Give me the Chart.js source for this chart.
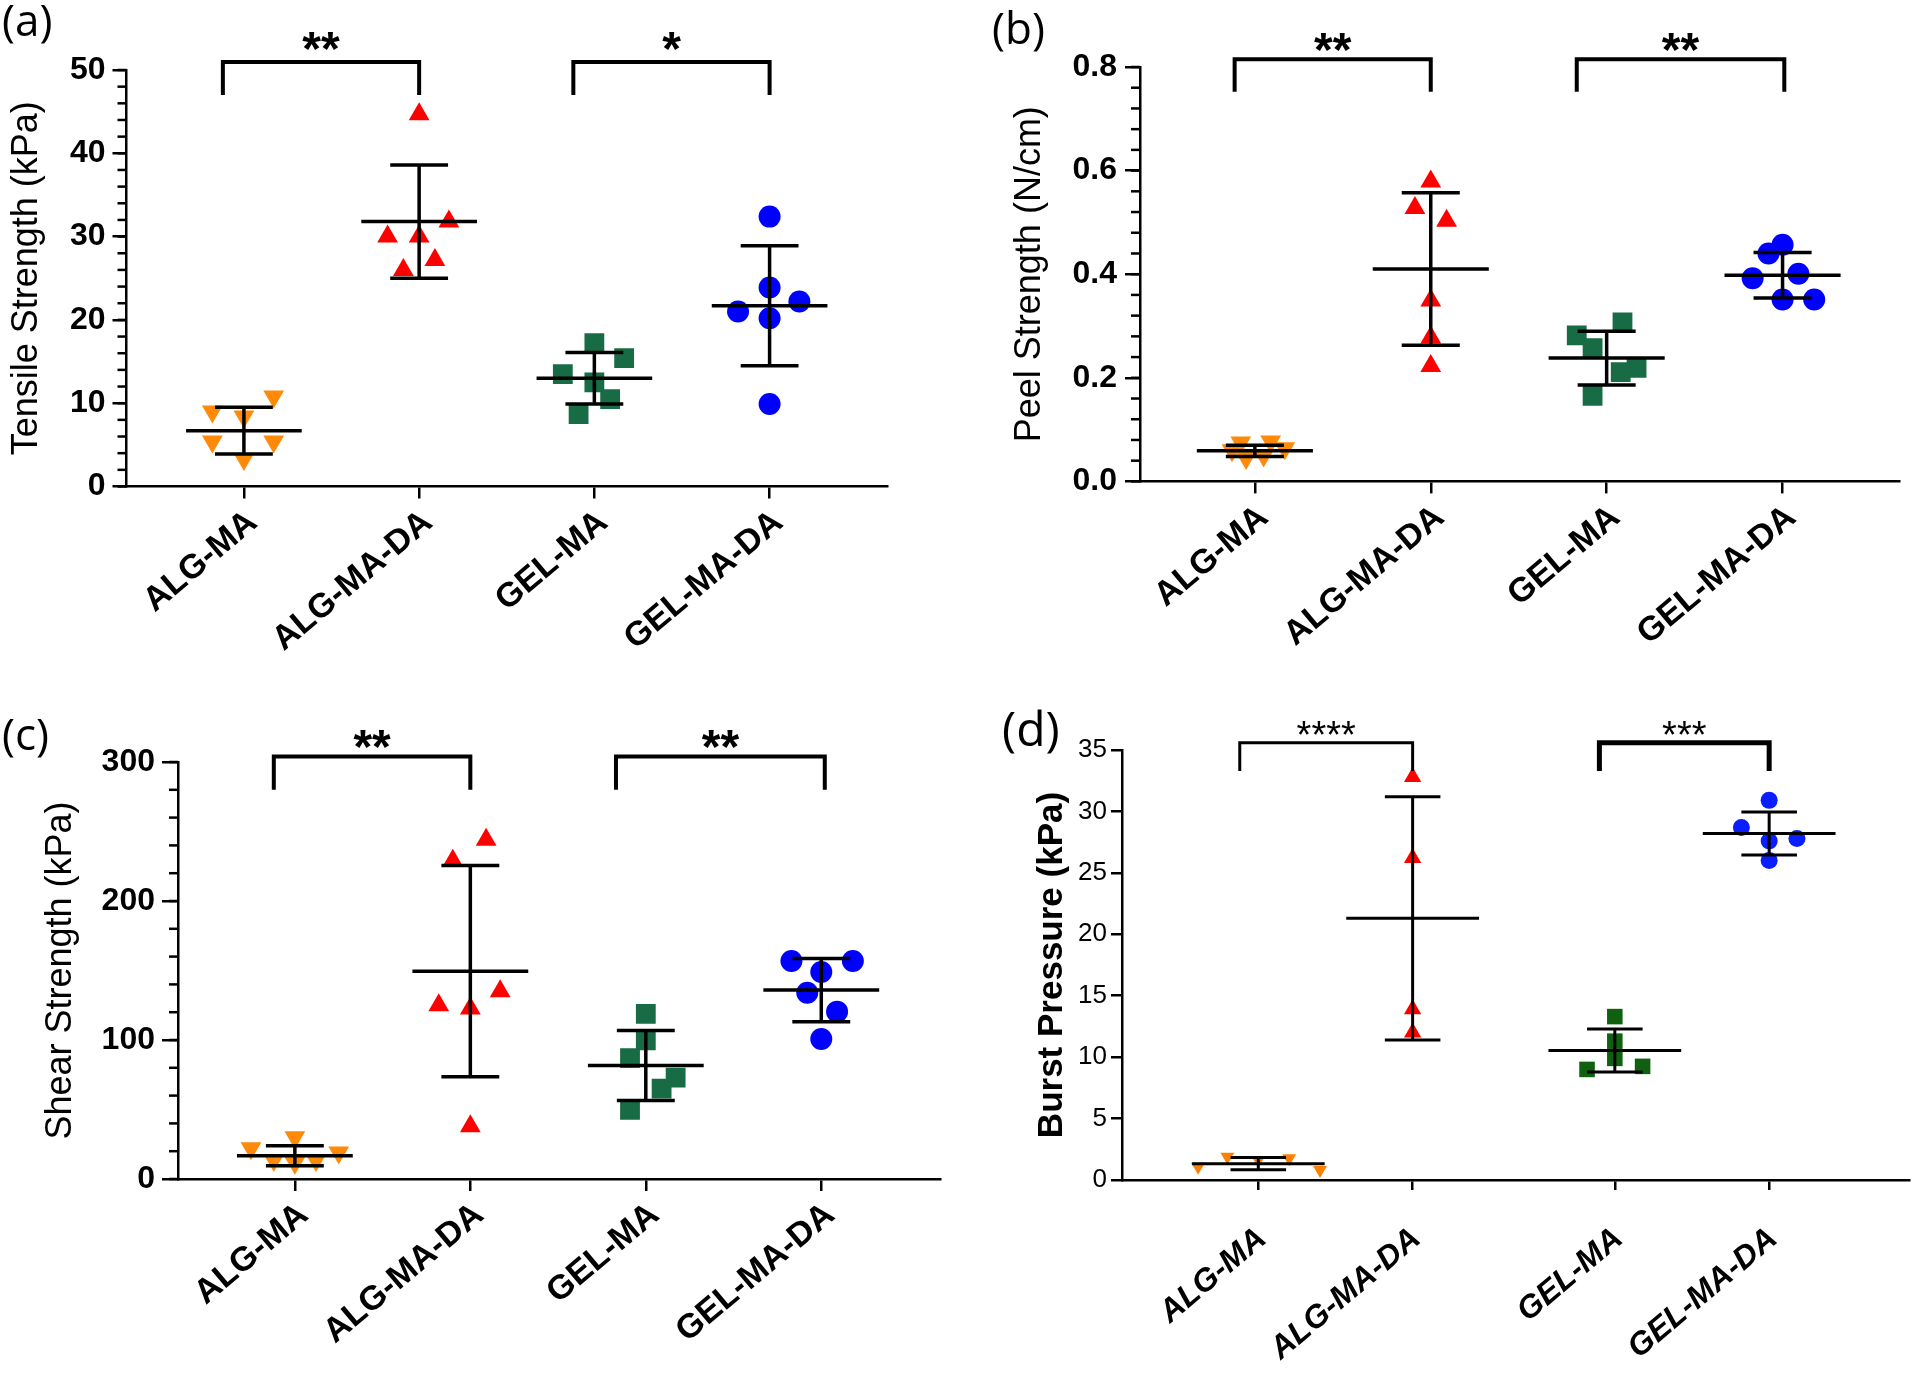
<!DOCTYPE html>
<html>
<head>
<meta charset="utf-8">
<script src="https://cdn.jsdelivr.net/npm/chart.js@4.4.1/dist/chart.umd.min.js"></script>
<style>
body { margin: 0; background: #fff; }
#wrap { position: relative; width: 1920px; height: 1379px; background: #fff; }
canvas { position: absolute; }
</style>
</head>
<body>
<div id="wrap">
  <canvas id="ca" width="960" height="690" style="left:0;top:0"></canvas>
  <canvas id="cb" width="960" height="690" style="left:960px;top:0"></canvas>
  <canvas id="cc" width="960" height="689" style="left:0;top:690px"></canvas>
  <canvas id="cd" width="960" height="689" style="left:960px;top:690px"></canvas>
</div>
<script>
const groups = ["ALG-MA", "ALG-MA-DA", "GEL-MA", "GEL-MA-DA"];

// ---------------- (a) TENSILE ----------------
const tensileVals = [
    [9.0, 8.4, 10.8, 5.4, 5.4, 3.3],
    [44.7, 30.0, 30.0, 31.8, 27.2, 26.0],
    [17.2, 15.4, 13.5, 12.5, 10.5, 8.7],
    [32.4, 23.9, 21.0, 22.2, 20.2, 9.9]
];
const tensileMean = [6.7, 31.8, 13.0, 21.7];
const tensileSD = [2.8, 6.8, 3.1, 7.2];
const tensileTicks = [0, 10, 20, 30, 40, 50];
const tensileSig = ["**", "*"];

// ---------------- (b) PEEL ----------------
const peelVals = [
    [0.060, 0.075, 0.045, 0.050, 0.077, 0.064],
    [0.579, 0.528, 0.503, 0.349, 0.278, 0.223],
    [0.282, 0.307, 0.257, 0.219, 0.211, 0.165],
    [0.457, 0.440, 0.392, 0.401, 0.351, 0.351]
];
const peelMean = [0.059, 0.41, 0.238, 0.398];
const peelSD = [0.011, 0.147, 0.052, 0.044];
const peelTicks = [0, 0.2, 0.4, 0.6, 0.8];
const peelSig = ["**", "**"];

// ---------------- (c) SHEAR ----------------
const shearVals = [
    [22.2, 30.1, 13.6, 11.7, 13.6, 19.0],
    [244, 229, 125, 122.6, 135, 38],
    [118.8, 99.8, 87, 72.9, 65, 49.7],
    [156.8, 156.8, 148.9, 134, 120.4, 100.7]
];
const shearMean = [16.8, 149.5, 81.7, 135.9];
const shearSD = [7.2, 76, 25.2, 22.7];
const shearTicks = [0, 100, 200, 300];
const shearSig = ["**", "**"];

// ---------------- (d) BURST ----------------
const burstVals = [
    [1.08, 1.89, 1.62, 1.78, 0.81],
    [32.8, 26.2, 13.9, 12.0],
    [13.3, 11.3, 9.9, 9.0, 9.25],
    [30.9, 28.7, 27.6, 27.8, 26.0]
];
const burstMean = [1.33, 21.3, 10.55, 28.2];
const burstSD = [0.5, 9.9, 1.75, 1.75];
const burstTicks = [0, 5, 10, 15, 20, 25, 30, 35];
const burstSig = ["****", "***"];

// horizontal scatter of the points around each group (layout only)
const jitA = [[-0.18, 0, 0.17, -0.18, 0.17, 0], [0, -0.18, 0, 0.17, 0.09, -0.09],
              [0, 0.17, -0.18, 0, 0.09, -0.09], [0, 0, -0.18, 0.17, 0, 0]];
const jitB = [[-0.13, -0.08, -0.05, 0.05, 0.09, 0.17], [0, -0.09, 0.09, 0, 0, 0],
              [-0.17, 0.09, -0.08, 0.17, 0.08, -0.08], [0, -0.08, -0.17, 0.09, 0, 0.18]];
const jitC = [[-0.25, 0, -0.12, 0, 0.12, 0.25], [0.09, -0.1, -0.18, 0, 0.17, 0],
              [0, 0, -0.09, 0.17, 0.09, -0.09], [-0.17, 0.18, 0, -0.08, 0.09, 0]];
const jitD = [[-0.39, -0.2, 0, 0.2, 0.4], [0, 0, 0, 0],
              [0, 0, 0, -0.18, 0.18], [0, -0.18, 0, 0.18, 0]];

const ARIAL = "'Liberation Sans', Arial, sans-serif";

// ---------------- decorations: minor ticks, panel letter, stars ----------------
const deco = {
    id: "deco",
    afterDatasetsDraw(chart, args, o) {
        const ctx = chart.ctx, xs = chart.scales.x, ys = chart.scales.y;
        ctx.save();
        ctx.strokeStyle = "#000";
        ctx.fillStyle = "#000";
        if (o.minor) {
            ctx.lineWidth = 2.5;
            const left = chart.chartArea.left;
            const n = Math.round((ys.max - ys.min) / o.minor);
            for (let k = 0; k <= n; k++) {
                const py = ys.getPixelForValue(ys.min + k * o.minor);
                ctx.beginPath();
                ctx.moveTo(left, py);
                ctx.lineTo(left - o.minorLen, py);
                ctx.stroke();
            }
        }
        ctx.font = o.labelFont;
        ctx.textAlign = "left";
        ctx.textBaseline = "alphabetic";
        ctx.fillText(o.label, o.labelX, o.labelY);

        ctx.font = o.starFont;
        ctx.textAlign = "center";
        o.stars.forEach(s => {
            ctx.fillText(s.text, xs.getPixelForValue(s.x), ys.getPixelForValue(s.y) + o.starShift);
        });
        ctx.restore();
    }
};

function panel(L, vals, jit, mean, sd, ticks, sig) {
    const datasets = [];

    // mean line + SD whisker for each group
    mean.forEach((m, i) => {
        const c = L.cats[i], up = m + sd[i], lo = m - sd[i];
        datasets.push({
            showLine: true, order: 0, borderColor: "#000", borderWidth: L.lw,
            pointRadius: 0, spanGaps: false, clip: false,
            data: [
                {x: c - L.meanW, y: m}, {x: c + L.meanW, y: m}, {x: c, y: null},
                {x: c - L.capW, y: up}, {x: c + L.capW, y: up}, {x: c, y: null},
                {x: c - L.capW, y: lo}, {x: c + L.capW, y: lo}, {x: c, y: null},
                {x: c, y: lo}, {x: c, y: up}
            ]
        });
    });

    // individual samples
    vals.forEach((arr, i) => {
        const st = L.marks[i];
        datasets.push({
            order: 1,
            data: arr.map((v, k) => ({x: L.cats[i] + jit[i][k], y: v})),
            pointStyle: st.style, rotation: st.rot || 0, pointRadius: st.r,
            backgroundColor: st.color, borderColor: st.color, borderWidth: 0
        });
    });

    // significance brackets
    const stars = [];
    sig.forEach((s, j) => {
        const [xl, xr] = L.brX[j];
        datasets.push({
            showLine: true, order: 0, borderColor: "#000", borderWidth: L.brW[j],
            pointRadius: 0, clip: false, borderJoinStyle: "miter",
            data: [{x: xl, y: L.brLeg}, {x: xl, y: L.brTop}, {x: xr, y: L.brTop}, {x: xr, y: L.brLeg}]
        });
        stars.push({text: s, x: (xl + xr) / 2, y: L.starY});
    });

    new Chart(document.getElementById(L.canvas), {
        type: "scatter",
        data: {datasets},
        plugins: [deco],
        options: {
            responsive: false,
            animation: false,
            layout: {padding: L.pad},
            plugins: {
                legend: {display: false},
                tooltip: {enabled: false},
                deco: {
                    minor: L.minor, minorLen: L.minorLen,
                    label: L.label, labelX: L.labelX, labelY: L.labelY, labelFont: L.labelFont,
                    stars, starFont: L.starFont, starShift: L.starShift
                }
            },
            scales: {
                x: {
                    type: "linear", min: L.xMin, max: L.xMax,
                    afterBuildTicks: s => { s.ticks = L.cats.map(v => ({value: v})); },
                    afterFit: s => { s.height = L.xH; },
                    border: {color: "#000", width: 2.5},
                    grid: {drawOnChartArea: false, color: "#000", lineWidth: 2.5, tickLength: L.xTick},
                    ticks: {
                        color: "#000", autoSkip: false, minRotation: L.rot, maxRotation: L.rot,
                        padding: L.xPad, labelOffset: L.xOff, font: L.xFont,
                        callback: (v, i) => groups[i]
                    }
                },
                y: {
                    min: ticks[0], max: ticks[ticks.length - 1],
                    afterBuildTicks: s => { s.ticks = ticks.map(v => ({value: v})); },
                    afterFit: s => { s.width = L.yW; },
                    border: {color: "#000", width: 2.5},
                    grid: {drawOnChartArea: false, color: "#000", lineWidth: 2.5, tickLength: L.yTick},
                    ticks: {color: "#000", padding: L.yPad, font: L.yFont, callback: v => v.toFixed(L.dec)},
                    title: {
                        display: true, text: L.title, color: "#000", font: L.titleFont,
                        padding: {top: L.titlePad, bottom: 0}
                    }
                }
            }
        }
    });
}

const marksABC = [
    {style: "triangle", rot: 180, r: 12, color: "#FF8A0A"},
    {style: "triangle", r: 12, color: "#FF0000"},
    {style: "rect", r: 14, color: "#176B45"},
    {style: "circle", r: 11, color: "#0000FF"}
];
const marksD = [
    {style: "triangle", rot: 180, r: 8, color: "#FF8000"},
    {style: "triangle", r: 10, color: "#FF0000"},
    {style: "rect", r: 11, color: "#0F600F"},
    {style: "circle", r: 8.5, color: "#0A1EFF"}
];

const common = {
    cats: [0, 1, 2, 3], meanW: 0.33, capW: 0.165, lw: 3.5, marks: marksABC,
    rot: 40, xTick: 12, xPad: 4, xOff: 9,
    xFont: {family: ARIAL, size: 34, weight: "bold"},
    yFont: {family: ARIAL, size: 32, weight: "bold"},
    titleFont: {family: ARIAL, size: 36, weight: "normal"},
    labelFont: "44px 'Open Sans', sans-serif",
    starFont: "bold 48px " + ARIAL, starShift: 27,
    minorLen: 9, brW: [4, 4]
};

panel(Object.assign({}, common, {
    canvas: "ca", xMin: -0.67, xMax: 3.67, yW: 126.5, xH: 203.5,
    pad: {top: 70, right: 73, bottom: 0, left: 0},
    yTick: 14, yPad: 7, dec: 0, minor: 2, title: "Tensile Strength (kPa)", titlePad: 5,
    label: "(a)", labelX: 2, labelY: 36,
    brX: [[-0.12, 1], [1.88, 3]], brTop: 50.95, brLeg: 47.0, starY: 53.8
}), tensileVals, jitA, tensileMean, tensileSD, tensileTicks, tensileSig);

panel(Object.assign({}, common, {
    canvas: "cb", xMin: -0.653, xMax: 3.662, yW: 180, xH: 208.6,
    pad: {top: 67, right: 21, bottom: 0, left: 0},
    yTick: 15, yPad: 8, dec: 1, minor: 0.04, title: "Peel Strength (N/cm)", titlePad: 48,
    label: "(b)", labelX: 32, labelY: 44,
    brX: [[-0.115, 1], [1.83, 3.01]], brTop: 0.815, brLeg: 0.752, starY: 0.854
}), peelVals, jitB, peelMean, peelSD, peelTicks, peelSig);

panel(Object.assign({}, common, {
    canvas: "cc", xMin: -0.666, xMax: 3.68, yW: 178, xH: 200,
    pad: {top: 72, right: 19.4, bottom: 0, left: 0},
    yTick: 16, yPad: 7, dec: 0, minor: 20, title: "Shear Strength (kPa)", titlePad: 39,
    label: "(c)", labelX: 2, labelY: 60,
    brX: [[-0.12, 1], [1.83, 3.02]], brTop: 304, brLeg: 280, starY: 319
}), shearVals, jitC, shearMean, shearSD, shearTicks, shearSig);

panel(Object.assign({}, common, {
    canvas: "cd", cats: [0, 1, 2.31, 3.31], xMin: -0.883, xMax: 4.216, yW: 162, xH: 199,
    pad: {top: 60, right: 3, bottom: 0, left: 0},
    meanW: 0.43, capW: 0.18, lw: 3, marks: marksD,
    xTick: 10, xPad: 30, xOff: 4,
    xFont: {family: ARIAL, size: 32, weight: "bold", style: "italic"},
    yFont: {family: ARIAL, size: 26, weight: "normal"},
    titleFont: {family: ARIAL, size: 35, weight: "bold"},
    yTick: 11, yPad: 4, dec: 0, minor: 0, title: "Burst Pressure (kPa)", titlePad: 71,
    label: "(d)", labelX: 42, labelY: 56, labelFont: "48px 'Open Sans', sans-serif",
    starFont: "38px " + ARIAL, starShift: 21,
    brX: [[-0.12, 1], [2.21, 3.31]], brW: [3, 5], brTop: 35.6, brLeg: 33.3, starY: 36.9
}), burstVals, jitD, burstMean, burstSD, burstTicks, burstSig);
</script>
</body>
</html>
